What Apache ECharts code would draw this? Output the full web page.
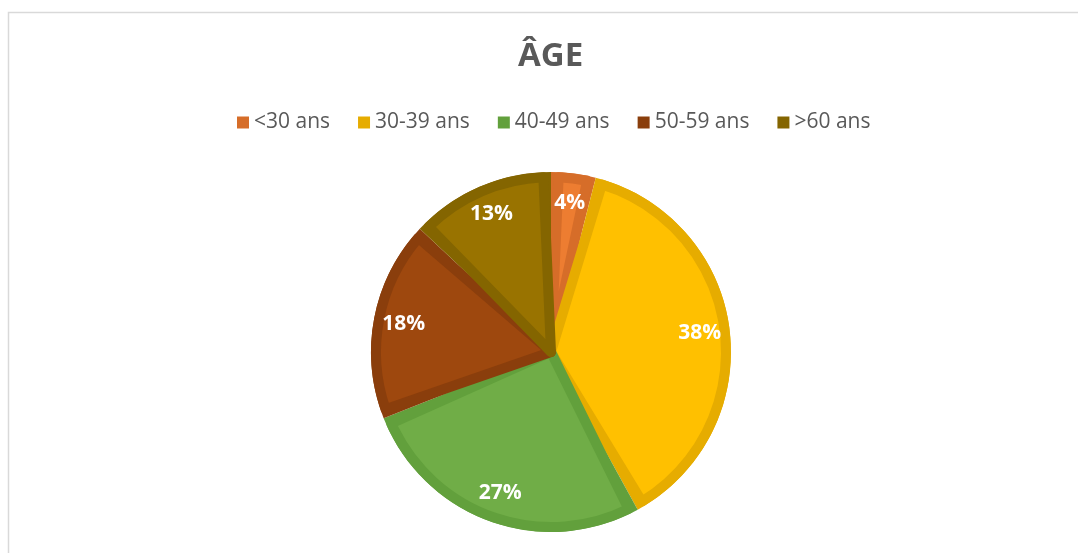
<!DOCTYPE html>
<html>
<head>
<meta charset="utf-8">
<script src="https://cdn.jsdelivr.net/npm/echarts@6/dist/echarts.min.js"></script>
<style>
  html, body { margin: 0; padding: 0; background: #fff; }
  #chart { width: 1078px; height: 553px; }
</style>
</head>
<body>
<div id="chart"></div>
<script>
// data
const categories = ['<30 ans', '30-39 ans', '40-49 ans', '50-59 ans', '>60 ans'];
const values = [4, 38, 27, 18, 13];
const fillColors = ['#ED7D31', '#FFC000', '#70AD47', '#9E480E', '#997300'];
const edgeColors = ['#D66D29', '#E6AC00', '#62A03C', '#8A3E0C', '#846500'];

const chart = echarts.init(document.getElementById('chart'));
const center = [551, 352];
const font = '"Open Sans", "Noto Sans", sans-serif';

const base = categories.map((name, i) => ({ name, value: values[i], itemStyle: { color: edgeColors[i] } }));
const inner = categories.map((name, i) => ({
  name, value: values[i],
  itemStyle: { color: fillColors[i], borderColor: edgeColors[i], borderWidth: 10, borderJoin: 'round' }
}));
const labels = categories.map((name, i) => ({ name, value: values[i] }));

chart.setOption({
  animation: false,
  title: {
    text: 'ÂGE',
    left: 513,
    top: 35,
    textStyle: { fontFamily: font, fontSize: 33, fontWeight: 'bold', color: '#595959' }
  },
  legend: {
    top: 107,
    left: 232,
    itemWidth: 12,
    itemHeight: 12,
    itemGap: 28,
    icon: 'rect',
    selectedMode: false,
    textStyle: { fontFamily: font, fontSize: 21, color: '#595959' },
    data: categories
  },
  graphic: [{
    type: 'rect',
    shape: { x: 8.5, y: 12.5, width: 1100, height: 600 },
    style: { fill: 'none', stroke: '#D9D9D9', lineWidth: 1.5 },
    silent: true
  }],
  series: [
    {
      type: 'pie', center, radius: [0, 180], startAngle: 90, clockwise: true,
      silent: true, label: { show: false }, labelLine: { show: false },
      emphasis: { disabled: true }, data: base
    },
    {
      type: 'pie', center, radius: [0, 175], startAngle: 90, clockwise: true,
      padAngle: 5, silent: true, label: { show: false }, labelLine: { show: false },
      emphasis: { disabled: true }, data: inner
    },
    {
      type: 'pie', center, radius: [114, 180], startAngle: 90, clockwise: true,
      silent: true, emphasis: { disabled: true },
      itemStyle: { color: 'rgba(0,0,0,0)' },
      label: {
        show: true, position: 'inside', formatter: '{c}%',
        fontFamily: font, fontSize: 21, fontWeight: 'bold', color: '#fff'
      },
      labelLine: { show: false },
      data: labels
    }
  ]
});
</script>
</body>
</html>
